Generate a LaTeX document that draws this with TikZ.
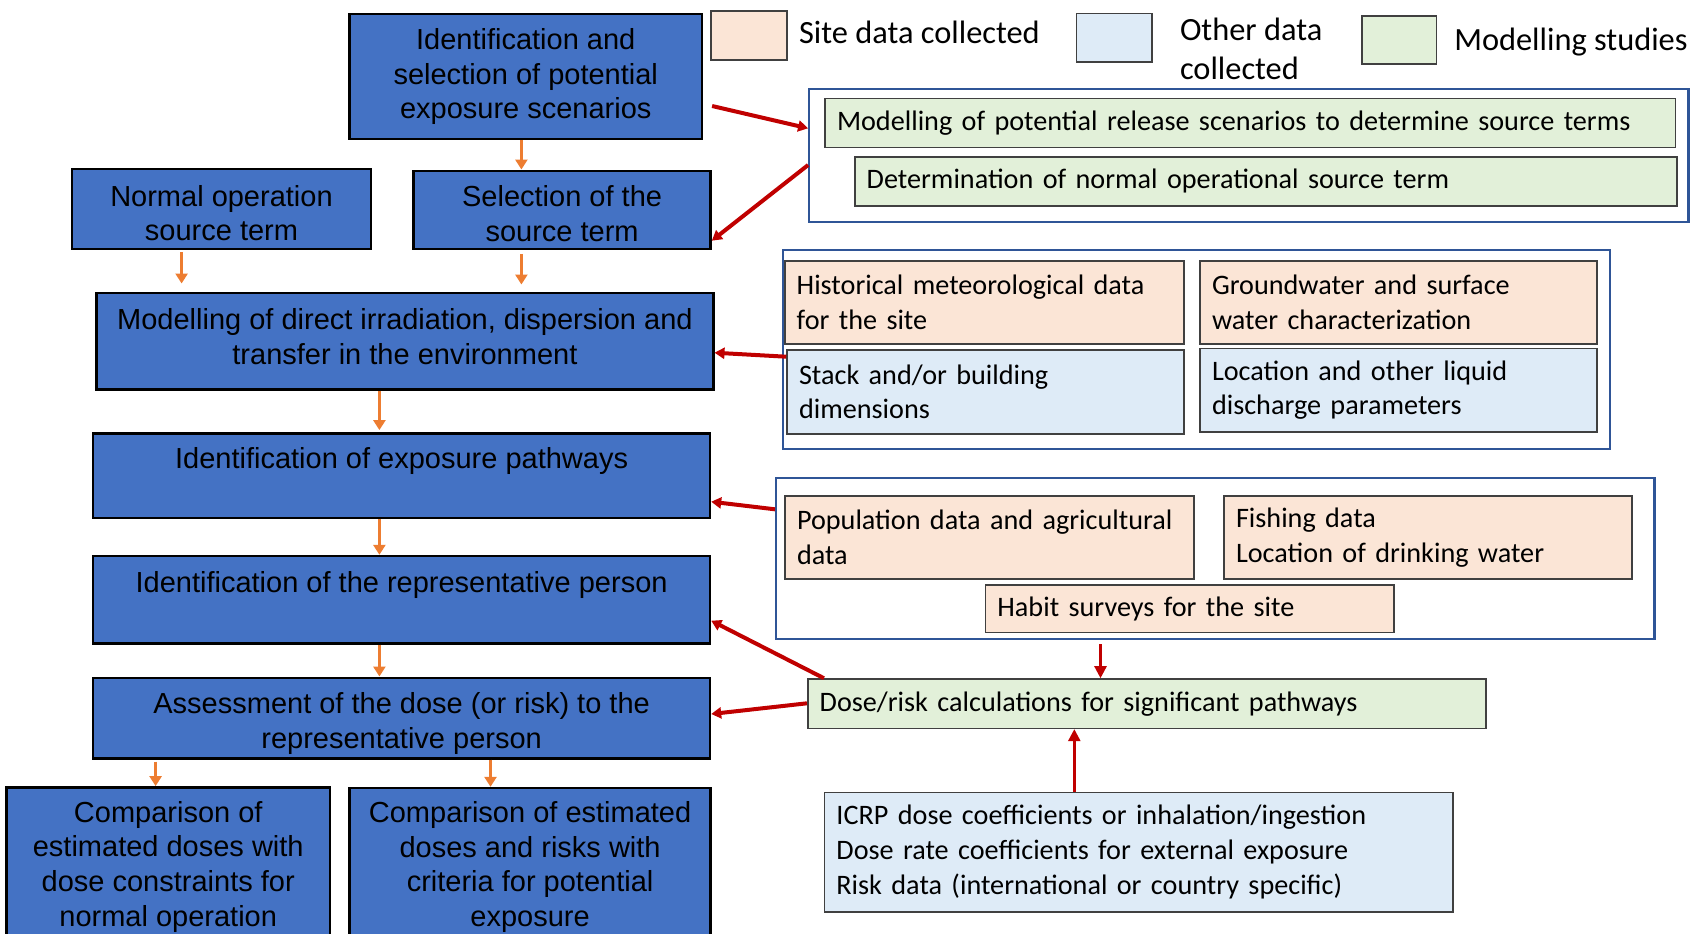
\documentclass[tikz,border=0pt]{standalone}
\usepackage{fontspec}
\setmainfont{Liberation Sans}
\newfontfamily\calibf{Carlito}
\usetikzlibrary{arrows.meta,calc}
\hyphenpenalty=10000
\definecolor{bluebox}{HTML}{4472C4}
\definecolor{peach}{HTML}{FBE5D6}
\definecolor{lblue}{HTML}{DEEBF7}
\definecolor{lgreen}{HTML}{E2F0D9}
\definecolor{grpblue}{HTML}{2F5597}
\definecolor{redarr}{HTML}{C00000}
\definecolor{orarr}{HTML}{ED7D31}
\definecolor{edgec}{HTML}{404040}
\newcommand\bx[7]{%
  \pgfmathsetmacro\cx{(#3+#5)/2}%
  \pgfmathsetmacro\cy{(#4+#6)/2}%
  \pgfmathsetmacro\bw{(#5-#3)*0.5}%
  \pgfmathsetmacro\bh{(#6-#4)*0.5}%
  \pgfmathsetmacro\tw{(#5-#3)*0.5-12}%
  \node[#2,minimum width=\bw pt,minimum height=\bh pt] (#1) at (\cx,\cy) {#7};}
\newcommand\toppad[1]{\rule{0pt}{#1}}
\newcommand\botpad[1]{\rule[-#1]{0pt}{#1}}
\tikzset{
  bluebx/.style={draw=black, line width=1.2pt, fill=bluebox, align=center, inner sep=2pt,
    font=\fontsize{14.5}{17.3}\selectfont},
  sbox/.style={draw=edgec, line width=0.8pt, text width=\tw pt, inner xsep=6pt, align=left,
    font=\calibf\fontsize{14.1}{17.3}\selectfont},
  peachbx/.style={sbox, fill=peach},
  otherbx/.style={sbox, fill=lblue},
  greenbx/.style={sbox, fill=lgreen},
  grp/.style={draw=grpblue, line width=1.1pt},
  legsq/.style={draw=edgec, line width=0.8pt},
  legtxt/.style={inner sep=0pt, font=\calibf\fontsize{16.2}{19.5}\selectfont, align=left},
  rarr/.style={draw=redarr, line width=2pt, -{Triangle[length=5pt,width=5.5pt]}},
  rarrthin/.style={draw=redarr, line width=1.2pt, -{Triangle[length=6pt,width=6pt]}},
  oarr/.style={draw=orarr, line width=1.4pt, -{Triangle[length=5pt,width=6pt]}},
}
\begin{document}
\begin{tikzpicture}[x=0.5pt,y=-0.5pt]
\useasboundingbox (0,0) rectangle (1695,933);
\clip (0,0) rectangle (1695,933);
% legend
\bx{LS}{legsq, fill=peach}{711}{11}{787}{60}{}
\bx{LO}{legsq, fill=lblue}{1076.4}{13.3}{1152.2}{61.7}{}
\bx{LM}{legsq, fill=lgreen}{1361.7}{15.7}{1436.4}{64}{}
\node[legtxt, anchor=base west] (TS) at (798.7,43.7) {Site data collected};
\node[legtxt, anchor=west] (TO) at (1179.6,48.8) {Other data\\collected};
\node[legtxt, anchor=base west] (TM) at (1453.9,50.4) {Modelling studies};
% blue flow boxes
\bx{B1}{bluebx}{349.6}{14}{701.9}{139}{Identification and\\selection of potential\\exposure scenarios}
\bx{B2}{bluebx}{72}{169}{371}{249}{\toppad{14.5pt}Normal operation\\source term}
\bx{B3}{bluebx}{413.6}{170.7}{710.6}{248.7}{\toppad{14.5pt}Selection of the\\source term}
\bx{B4}{bluebx}{96.5}{292.7}{713.3}{389.3}{Modelling of direct irradiation, dispersion and\\transfer in the environment\botpad{4.5pt}}
\bx{B5}{bluebx}{93.2}{433.3}{710}{517.7}{Identification of exposure pathways\\\mbox{}}
\bx{B6}{bluebx}{93.2}{556}{710}{643.3}{Identification of the representative person\\\mbox{}}
\bx{B7}{bluebx}{93.2}{677.7}{710}{758.3}{\toppad{16pt}Assessment of the dose (or risk) to the\\representative person}
\bx{B8}{bluebx}{6.5}{787.3}{330}{946}{Comparison of\\estimated doses with\\dose constraints for\\normal operation}
\bx{B9}{bluebx}{349.6}{788}{710.6}{946}{Comparison of estimated\\doses and risks with\\criteria for potential\\exposure}
% group 1
\bx{G1}{grp}{809.2}{89.3}{1688.4}{222.3}{}
\bx{M1}{greenbx}{825}{98.3}{1675.6}{147.3}{Modelling of potential release scenarios to determine source terms}
\bx{M2}{greenbx}{854.7}{156.7}{1676.7}{206}{Determination of normal operational source term}
% group 2
\bx{G2}{grp}{783}{250}{1610.2}{449.3}{}
\bx{H}{peachbx}{784.7}{260.7}{1183.7}{344}{Historical meteorological data\\for the site}
\bx{GW}{peachbx}{1200}{260.7}{1596.8}{344}{Groundwater and surface\\water characterization}
\bx{S}{otherbx}{787}{350}{1183.7}{434}{Stack and/or building\\dimensions}
\bx{L}{otherbx}{1200}{348.3}{1596.8}{431.7}{Location and other liquid\\discharge parameters}
% group 3
\bx{G3}{grp}{776.1}{478.3}{1654.5}{639}{}
\bx{P}{peachbx}{785}{495.7}{1194}{579}{Population data and agricultural\\data}
\bx{F}{peachbx}{1224}{495.7}{1631.8}{579}{Fishing data\\Location of drinking water}
\bx{HS}{peachbx}{985.4}{584.7}{1393.9}{632.3}{Habit surveys for the site}
% dose and ICRP
\bx{D}{greenbx}{807.7}{679}{1485.7}{728.3}{Dose/risk calculations for significant pathways}
\bx{I}{otherbx}{824.4}{792.3}{1453}{911.7}{ICRP dose coefficients or inhalation/ingestion\\Dose rate coefficients for external exposure\\Risk data (international or country specific)}
% orange arrows
\draw[oarr] (B1.south -| 521.4,0) -- (B3.north -| 521.4,0);
\draw[oarr, shorten <=1pt, shorten >=4pt] (B2.south -| 181.6,0) -- (B4.north -| 181.6,0);
\draw[oarr, shorten <=2pt, shorten >=3.5pt] (B3.south -| 521.4,0) -- (B4.north -| 521.4,0);
\draw[oarr, shorten >=1pt] (B4.south -| 379.4,0) -- (B5.north -| 379.4,0);
\draw[oarr] (B5.south -| 379.4,0) -- (B6.north -| 379.4,0);
\draw[oarr] (B6.south -| 379.4,0) -- (B7.north -| 379.4,0);
\draw[oarr, shorten <=1pt] (B7.south -| 155.6,0) -- (B8.north -| 155.6,0);
\draw[oarr] (B7.south -| 490.5,0) -- (B9.north -| 490.5,0);
% red arrows
\draw[rarr] ($(B1.east |- 0,106)+(9,0)$) -- (G1.west |- 0,128.3);
\draw[rarr] (G1.west |- 0,165) -- (B3.east |- 0,240.7);
\draw[rarr] (S.west |- 0,356.7) -- (B4.east |- 0,352.7);
\draw[rarr] (G3.west |- 0,509.3) -- (B5.east |- 0,501.7);
\draw[rarr] ($(D.north west)+(17,0)$) -- (B6.east |- 0,620.7);
\draw[rarr] (D.west |- 0,703.3) -- (B7.east |- 0,714);
\draw[rarrthin, shorten <=2pt] (G3.south -| 1100.5,0) -- (D.north -| 1100.5,0);
\draw[rarrthin] (I.north -| 1074.3,0) -- (D.south -| 1074.3,0);
\end{tikzpicture}
\end{document}
